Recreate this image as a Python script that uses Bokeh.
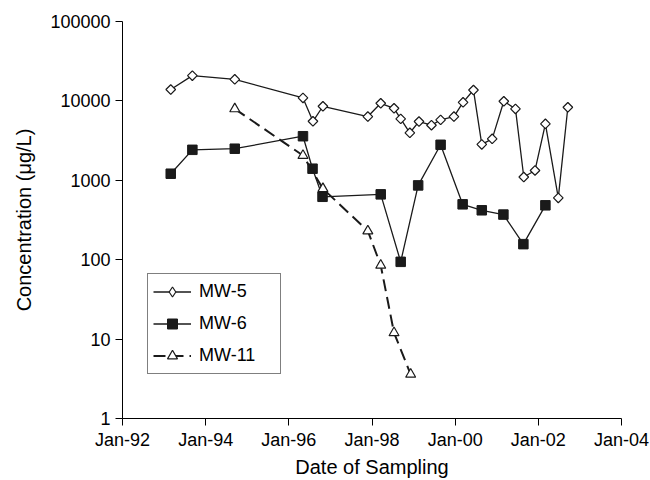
from bokeh.plotting import figure
from bokeh.models import FixedTicker, Legend, LegendItem
from bokeh.embed import file_html
from bokeh.resources import INLINE
import math

# ---- data ----
mw5_year = [1993.16, 1993.68, 1994.70, 1996.34, 1996.58, 1996.82, 1997.90, 1998.21,
            1998.53, 1998.69, 1998.91, 1999.13, 1999.43, 1999.65, 1999.97, 2000.19,
            2000.44, 2000.64, 2000.89, 2001.17, 2001.45, 2001.65, 2001.92, 2002.17,
            2002.48, 2002.71]
mw5_conc = [13900, 20800, 18700, 10900, 5540, 8560, 6350, 9330,
            8070, 5940, 3960, 5500, 4940, 5770, 6350, 9600,
            13700, 2830, 3330, 9890, 7930, 1100, 1330, 5140,
            600, 8310]

mw6_year = [1993.16, 1993.68, 1994.70, 1996.34, 1996.57, 1996.81, 1998.21, 1998.69,
            1999.11, 1999.65, 2000.18, 2000.64, 2001.16, 2001.64, 2002.17]
mw6_conc = [1210, 2420, 2500, 3590, 1400, 620, 665, 94,
            863, 2800, 498, 419, 370, 157, 484]

mw11_year = [1994.70, 1996.34, 1996.82, 1997.90, 1998.21, 1998.53, 1998.93]
mw11_conc = [7940, 2050, 784, 230, 85, 12, 3.6]

x_ticks = [1992, 1994, 1996, 1998, 2000, 2002, 2004]
x_labels = ["Jan-92", "Jan-94", "Jan-96", "Jan-98", "Jan-00", "Jan-02", "Jan-04"]
y_ticks = [1, 10, 100, 1000, 10000, 100000]
y_labels = ["1", "10", "100", "1000", "10000", "100000"]

FONT = "Liberation Sans"
INK = "#1a1a1a"

p = figure(width=650, height=480, y_axis_type="log",
           x_range=(x_ticks[0], x_ticks[-1]), y_range=(y_ticks[0], y_ticks[-1]),
           output_backend="svg", toolbar_location=None,
           min_border_left=122, min_border_right=29, min_border_top=21, min_border_bottom=61)

p.xgrid.visible = False
p.ygrid.visible = False
p.outline_line_color = None
p.background_fill_color = "white"
p.border_fill_color = "white"

# MW-5: line + diamonds
l5 = p.line(mw5_year, mw5_conc, line_color=INK, line_width=1.3)
# narrow diamond underneath (hidden by the rotated squares); gives the legend its symbol
k5 = p.scatter(mw5_year, mw5_conc, marker="diamond", size=8.5,
               fill_color="white", line_color=INK, line_width=1.2)
s5 = p.scatter(mw5_year, mw5_conc, marker="square", angle=math.pi / 4, size=6.8,
               fill_color="white", line_color=INK, line_width=1.2)

# MW-6: line + filled squares
l6 = p.line(mw6_year, mw6_conc, line_color=INK, line_width=1.3)
s6 = p.scatter(mw6_year, mw6_conc, marker="square", size=9.5,
               fill_color=INK, line_color=INK, line_width=1)

# MW-11: dashed line + open triangles
l11 = p.line(mw11_year, mw11_conc, line_color=INK, line_width=2, line_dash="12 6")
s11 = p.scatter(mw11_year, mw11_conc, marker="triangle", size=10,
                fill_color="white", line_color=INK, line_width=1.2)

legend = Legend(items=[
    LegendItem(label="MW-5", renderers=[l5, k5]),
    LegendItem(label="MW-6", renderers=[l6, s6]),
    LegendItem(label="MW-11", renderers=[l11, s11]),
], location=(25, 44))
legend.border_line_color = "black"
legend.border_line_width = 1
legend.background_fill_color = "white"
legend.background_fill_alpha = 1
legend.label_text_font = FONT
legend.label_text_font_size = "18px"
legend.label_text_color = "black"
legend.glyph_width = 38
legend.glyph_height = 25
legend.label_height = 24
legend.label_width = 76
legend.spacing = 7
legend.padding = 5
legend.margin = 0
legend.label_standoff = 8
p.add_layout(legend, "center")

# axes
for ax in (p.xaxis[0], p.yaxis[0]):
    ax.axis_line_color = "black"
    ax.axis_line_width = 1
    ax.major_tick_line_color = "black"
    ax.major_tick_in = 0
    ax.major_tick_out = 7
    ax.minor_tick_line_color = None
    ax.major_label_text_font = FONT
    ax.major_label_text_font_size = "18px"
    ax.major_label_text_color = "black"
    ax.axis_label_text_font = FONT
    ax.axis_label_text_font_size = "20px"
    ax.axis_label_text_font_style = "normal"
    ax.axis_label_text_color = "black"

p.xaxis.ticker = FixedTicker(ticks=x_ticks)
p.xaxis.major_label_overrides = {t: l for t, l in zip(x_ticks, x_labels)}
p.xaxis.axis_label = "Date of Sampling"
p.xaxis.major_label_standoff = 4
p.xaxis.axis_label_standoff = 3

p.yaxis.ticker = FixedTicker(ticks=y_ticks)
p.yaxis.major_label_overrides = {t: l for t, l in zip(y_ticks, y_labels)}
p.yaxis.axis_label = "Concentration (μg/L)"
p.yaxis.major_label_standoff = 5
p.yaxis.axis_label_standoff = 12

open("out.html", "w").write(file_html(p, INLINE))
